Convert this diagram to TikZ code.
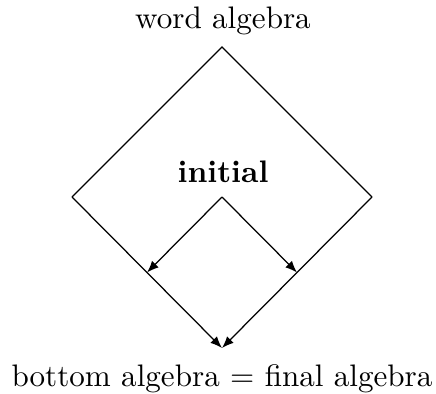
\documentclass[tikz,border=0pt]{standalone}
\usetikzlibrary{arrows.meta}
\begin{document}
\begin{tikzpicture}[x=0.3215pt,y=-0.3215pt,
  edge/.style={line width=0.4pt},
  arr/.style={line width=0.4pt,-{Latex[length=3.8pt,width=3pt]}},
  lbl/.style={anchor=base,inner sep=0pt,font=\normalsize}]
\useasboundingbox (0,0) rectangle (436,393);
\coordinate (T) at (222,47);
\coordinate (L) at (72,197);
\coordinate (R) at (372,197);
\coordinate (B) at (222,348);
\coordinate (C) at (222,197);
\coordinate (ML) at (147,272.5);
\coordinate (MR) at (297,272.5);
\node[lbl] (word) at (223,28) {word algebra};
\node[lbl] (init) at (223,182) {\textbf{initial}};
\node[lbl] (bot) at (222,386) {bottom algebra $=$ final algebra};
\draw[edge] (L) -- (T) -- (R);
\draw[arr] (L) -- (B);
\draw[arr] (R) -- (B);
\draw[arr] (C) -- (ML);
\draw[arr] (C) -- (MR);
\end{tikzpicture}
\end{document}
